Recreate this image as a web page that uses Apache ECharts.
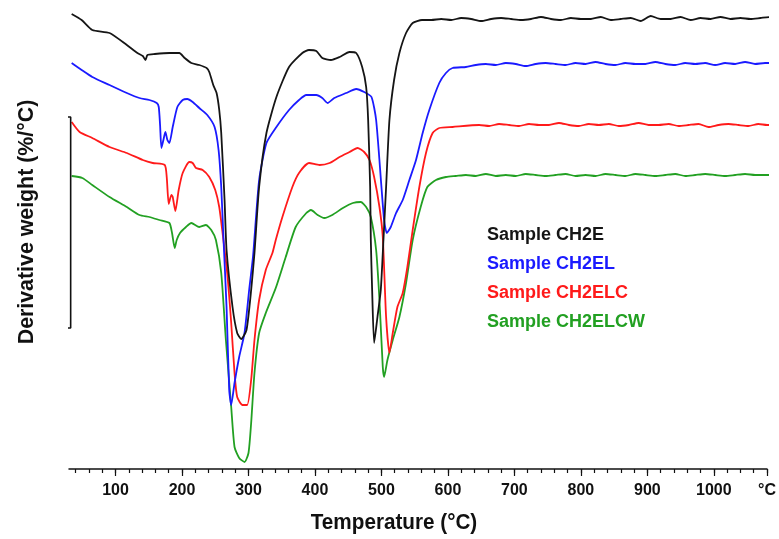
<!DOCTYPE html>
<html>
<head>
<meta charset="utf-8">
<script src="https://cdn.jsdelivr.net/npm/echarts@6/dist/echarts.min.js"></script>
<style>html,body{margin:0;padding:0;background:#fff}#c{width:779px;height:539px}</style>
</head>
<body>
<div id="c"></div>
<script>
// Temperature (°C) vs derivative weight (arbitrary units, curves offset)
const seriesNames = ['Sample CH2E', 'Sample CH2EL', 'Sample CH2ELC', 'Sample CH2ELCW'];
const xTickLabels = [100, 200, 300, 400, 500, 600, 700, 800, 900, 1000];
const xUnitLabel = '°C';
const xUnitAt = 1080;
const xTitle = 'Temperature (°C)';
const yTitle = 'Derivative weight (%/°C)';
const scaleBar = [[25.7, 3.52], [32.5, 3.52], [32.5, 1.41], [25.7, 1.41]];

const ch2e = [[34,4.55],[49,4.49],[65,4.39],[91,4.36],[117,4.24],[133,4.16],[141,4.13],[145,4.09],[148,4.14],[159,4.15],[181,4.16],[196,4.16],[204,4.11],[214,4.06],[226,4.04],[237,4.01],[241,3.97],[247,3.84],[252,3.76],[256,3.59],[259,3.36],[264,2.69],[267,2.19],[276,1.62],[283,1.36],[289,1.30],[297,1.39],[304,1.79],[309,2.16],[316,2.82],[327,3.36],[342,3.72],[361,4.02],[381,4.16],[391,4.19],[402,4.18],[411,4.11],[424,4.09],[437,4.12],[452,4.17],[462,4.16],[471,4.02],[477,3.82],[480,3.49],[483,2.82],[484,2.29],[486,1.79],[489,1.26],[494,1.52],[499,1.79],[503,2.29],[507,2.82],[512,3.49],[519,3.89],[527,4.16],[537,4.36],[547,4.46],[561,4.49],[575,4.49],[590,4.50],[605,4.49],[620,4.51],[635,4.50],[650,4.48],[665,4.50],[680,4.51],[695,4.50],[710,4.49],[725,4.50],[740,4.52],[755,4.50],[770,4.49],[785,4.51],[800,4.50],[815,4.50],[830,4.52],[845,4.49],[860,4.50],[875,4.51],[890,4.48],[905,4.53],[920,4.50],[935,4.50],[950,4.52],[965,4.49],[980,4.51],[995,4.50],[1010,4.52],[1025,4.50],[1040,4.51],[1055,4.50],[1070,4.51],[1085,4.52],[1093,4.51]];

const ch2el = [[34,4.06],[49,3.99],[65,3.92],[91,3.84],[117,3.76],[136,3.71],[151,3.69],[162,3.66],[165,3.62],[167,3.44],[169,3.21],[172,3.29],[175,3.37],[178,3.29],[181,3.26],[186,3.42],[193,3.62],[201,3.69],[208,3.70],[216,3.67],[226,3.61],[238,3.54],[249,3.42],[255,3.19],[259,2.82],[262,2.36],[267,1.62],[271,0.79],[274,0.64],[279,0.86],[286,1.12],[294,1.36],[301,1.79],[307,2.14],[316,2.89],[327,3.26],[342,3.42],[361,3.59],[376,3.69],[387,3.74],[402,3.74],[411,3.71],[419,3.66],[429,3.71],[447,3.76],[462,3.80],[474,3.77],[485,3.72],[492,3.49],[500,2.82],[504,2.49],[508,2.36],[514,2.42],[522,2.56],[532,2.69],[542,2.89],[552,3.09],[562,3.36],[572,3.59],[587,3.86],[597,3.96],[607,4.01],[627,4.02],[642,4.04],[657,4.05],[672,4.04],[687,4.06],[702,4.05],[717,4.03],[732,4.05],[747,4.06],[762,4.05],[777,4.04],[792,4.06],[807,4.05],[822,4.07],[837,4.05],[852,4.04],[867,4.06],[882,4.05],[897,4.05],[912,4.07],[927,4.05],[942,4.04],[957,4.06],[972,4.05],[987,4.06],[1002,4.04],[1017,4.06],[1032,4.05],[1047,4.07],[1062,4.05],[1077,4.06],[1093,4.06]];

const ch2elc = [[34,3.47],[46,3.37],[65,3.31],[91,3.22],[117,3.16],[141,3.09],[156,3.06],[174,3.04],[177,2.92],[180,2.65],[184,2.74],[186,2.72],[190,2.58],[195,2.79],[201,2.96],[211,3.07],[216,3.06],[221,3.01],[231,2.99],[241,2.92],[250,2.79],[256,2.62],[261,2.36],[268,1.96],[274,1.46],[279,0.96],[283,0.72],[291,0.64],[298,0.64],[304,0.89],[309,1.29],[316,1.69],[326,1.99],[336,2.16],[341,2.29],[351,2.52],[366,2.82],[376,2.96],[391,3.06],[407,3.04],[422,3.06],[437,3.12],[452,3.17],[464,3.21],[474,3.17],[482,3.09],[489,2.92],[497,2.62],[502,2.32],[507,1.52],[512,1.16],[517,1.36],[524,1.62],[532,1.76],[539,2.02],[547,2.39],[557,2.82],[567,3.16],[577,3.36],[587,3.41],[607,3.42],[647,3.44],[662,3.43],[677,3.45],[692,3.44],[707,3.43],[722,3.45],[737,3.44],[752,3.44],[767,3.46],[782,3.44],[797,3.43],[812,3.45],[827,3.44],[842,3.45],[857,3.43],[872,3.44],[887,3.46],[902,3.44],[917,3.44],[932,3.45],[947,3.43],[962,3.44],[977,3.45],[992,3.42],[1007,3.44],[1022,3.45],[1037,3.44],[1052,3.43],[1067,3.45],[1080,3.44],[1093,3.44]];

const ch2elcw = [[34,2.93],[50,2.91],[65,2.84],[91,2.72],[117,2.62],[136,2.54],[151,2.52],[166,2.49],[181,2.46],[185,2.36],[189,2.21],[192,2.29],[197,2.36],[206,2.42],[214,2.46],[226,2.42],[236,2.44],[244,2.39],[251,2.29],[259,1.96],[266,1.29],[274,0.62],[279,0.22],[286,0.11],[294,0.07],[300,0.16],[304,0.46],[309,0.96],[316,1.36],[326,1.56],[341,1.81],[356,2.12],[371,2.42],[387,2.56],[394,2.59],[404,2.54],[414,2.51],[426,2.54],[442,2.61],[457,2.66],[469,2.67],[477,2.62],[484,2.52],[492,2.19],[497,1.69],[502,1.02],[504,0.92],[509,1.09],[517,1.29],[527,1.52],[537,1.86],[547,2.29],[559,2.62],[569,2.82],[582,2.89],[597,2.92],[612,2.93],[627,2.94],[642,2.93],[657,2.95],[672,2.93],[687,2.94],[702,2.93],[717,2.95],[732,2.94],[747,2.93],[762,2.94],[777,2.95],[792,2.93],[807,2.94],[822,2.93],[837,2.95],[852,2.94],[867,2.93],[882,2.95],[897,2.94],[912,2.93],[927,2.94],[942,2.95],[957,2.93],[972,2.94],[987,2.95],[1002,2.94],[1017,2.93],[1032,2.94],[1047,2.95],[1062,2.94],[1077,2.94],[1093,2.94]];

const colors = ['#151515', '#1a1aff', '#ff1a1a', '#22a022'];
const allData = [ch2e, ch2el, ch2elc, ch2elcw];

const minorTicks = [];
for (let t = 40; t <= 1080; t += 20) minorTicks.push(t);
const labelValues = xTickLabels.concat([xUnitAt]);
const majorTicks = xTickLabels.concat([xUnitAt]);

const chart = echarts.init(document.getElementById('c'), null, {renderer: 'canvas'});
const font = '"Liberation Sans", Arial, sans-serif';

const series = allData.map((d, i) => ({
  name: seriesNames[i],
  type: 'line',
  data: d,
  showSymbol: false,
  symbol: 'none',
  smooth: 0.2,
  clip: false,
  lineStyle: {color: colors[i], width: 1.8},
  itemStyle: {color: colors[i]},
  z: 5 - i
}));
series.push({
  name: 'scale',
  type: 'line',
  data: scaleBar,
  showSymbol: false,
  symbol: 'none',
  clip: false,
  silent: true,
  lineStyle: {color: '#111', width: 1.6}
});

chart.setOption({
  animation: false,
  backgroundColor: '#fff',
  grid: {left: 69, right: 11, top: 9, bottom: 70, containLabel: false},
  legend: {
    data: seriesNames.map((n, i) => ({name: n, textStyle: {color: colors[i]}})),
    orient: 'vertical',
    left: 477,
    top: 220,
    icon: 'none',
    itemWidth: 0,
    itemHeight: 14,
    itemGap: 9,
    textStyle: {fontFamily: font, fontWeight: 'bold', fontSize: 18, lineHeight: 20},
    selectedMode: false
  },
  xAxis: [{
    type: 'value', min: 30, max: 1080, position: 'bottom',
    axisLine: {show: true, lineStyle: {color: '#111', width: 1.5}},
    axisTick: {show: true, customValues: minorTicks, length: 4, inside: false, lineStyle: {color: '#111', width: 1.2}},
    axisLabel: {customValues: labelValues, formatter: v => (v === xUnitAt ? xUnitLabel : String(v)), fontFamily: font, fontWeight: 'bold', fontSize: 16, color: '#111', margin: 14},
    splitLine: {show: false}
  }, {
    type: 'value', min: 30, max: 1080, position: 'bottom', offset: 0,
    axisLine: {show: false},
    axisTick: {show: true, customValues: majorTicks, length: 7, inside: false, lineStyle: {color: '#111', width: 1.2}},
    axisLabel: {show: false},
    splitLine: {show: false}
  }],
  yAxis: {type: 'value', min: 0, max: 4.6, show: false},
  series: series,
  graphic: [{
    type: 'text', x: 394, y: 523, scaleX: 0.94, scaleY: 1,
    style: {text: xTitle, fontFamily: font, fontWeight: 'bold', fontSize: 22, fill: '#111', align: 'center', verticalAlign: 'middle'}
  }, {
    type: 'text', rotation: Math.PI / 2, x: 27, y: 222, scaleX: 0.97, scaleY: 1,
    style: {text: yTitle, fontFamily: font, fontWeight: 'bold', fontSize: 22, fill: '#111', align: 'center', verticalAlign: 'middle'}
  }]
});
</script>
</body>
</html>
